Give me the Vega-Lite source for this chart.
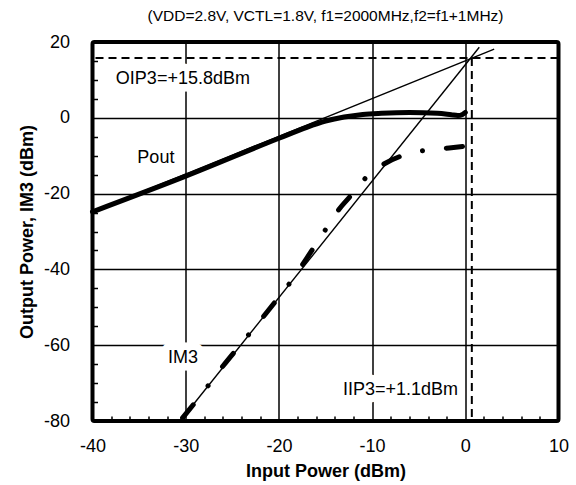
{
  "$schema": "https://vega.github.io/schema/vega-lite/v6.json",
  "width": 466,
  "height": 379,
  "padding": {"left": 17.5, "top": 8, "right": 5, "bottom": 5},
  "title": {"text": "(VDD=2.8V, VCTL=1.8V, f1=2000MHz,f2=f1+1MHz)", "fontSize": 15.5, "fontWeight": "normal", "font": "Liberation Sans", "color": "black", "anchor": "middle", "frame": "group", "offset": 9},
  "datasets": {
    "curves": [
      {"series": "Pout", "x": -40, "y": -24.8},
      {"series": "Pout", "x": -30, "y": -15.4},
      {"series": "Pout", "x": -20, "y": -5.4},
      {"series": "Pout", "x": -17, "y": -2.5},
      {"series": "Pout", "x": -15, "y": -0.9},
      {"series": "Pout", "x": -13, "y": 0.2},
      {"series": "Pout", "x": -11, "y": 0.9},
      {"series": "Pout", "x": -9, "y": 1.2},
      {"series": "Pout", "x": -6, "y": 1.4},
      {"series": "Pout", "x": -3, "y": 1.2},
      {"series": "Pout", "x": -1.5, "y": 0.8},
      {"series": "Pout", "x": -0.8, "y": 0.6},
      {"series": "Pout", "x": -0.3, "y": 0.9},
      {"series": "Pout", "x": 0, "y": 1.4},
      {"series": "IM3", "x": -30.6, "y": -80},
      {"series": "IM3", "x": -28, "y": -72},
      {"series": "IM3", "x": -26, "y": -65.5},
      {"series": "IM3", "x": -24, "y": -59.5},
      {"series": "IM3", "x": -22, "y": -53.5},
      {"series": "IM3", "x": -20, "y": -47.3},
      {"series": "IM3", "x": -18.5, "y": -42.5},
      {"series": "IM3", "x": -17, "y": -37},
      {"series": "IM3", "x": -15, "y": -29.5},
      {"series": "IM3", "x": -13.5, "y": -24},
      {"series": "IM3", "x": -12.3, "y": -20.6},
      {"series": "IM3", "x": -10.75, "y": -16},
      {"series": "IM3", "x": -9, "y": -12.6},
      {"series": "IM3", "x": -7, "y": -10.2},
      {"series": "IM3", "x": -5, "y": -8.9},
      {"series": "IM3", "x": -3, "y": -8.2},
      {"series": "IM3", "x": -1.5, "y": -7.9},
      {"series": "IM3", "x": -0.3, "y": -7.6}
    ],
    "fits": [
      {"series": "Pout fit", "x": -40, "y": -24.8},
      {"series": "Pout fit", "x": 3.1, "y": 18.1},
      {"series": "IM3 fit", "x": -30.6, "y": -80},
      {"series": "IM3 fit", "x": 1.5, "y": 18.6}
    ],
    "labels": [
      {"label": "OIP3=+15.8dBm", "x": -30.3, "y": 10.2},
      {"label": "Pout", "x": -33.2, "y": -10.6},
      {"label": "IM3", "x": -30.3, "y": -63.3},
      {"label": "IIP3=+1.1dBm", "x": -6.95, "y": -71.9}
    ],
    "intercept": [{"iip3": 0.7, "oip3": 15.8, "floor": -80}]
  },
  "layer": [
    {
      "data": {"name": "labels"},
      "mark": {"type": "text", "fill": "white", "stroke": "white", "strokeWidth": 15, "strokeJoin": "round", "fontSize": 18, "font": "Liberation Sans", "align": "center", "baseline": "middle"},
      "encoding": {
        "x": {"field": "x", "type": "quantitative", "scale": {"domain": [-40, 10], "nice": false, "zero": false}, "axis": null},
        "y": {"field": "y", "type": "quantitative", "scale": {"domain": [-80, 20], "nice": false, "zero": false}, "axis": null},
        "text": {"field": "label", "type": "nominal"}
      }
    },
    {
      "data": {"name": "fits"},
      "mark": {"type": "line", "color": "black", "strokeWidth": 1.4},
      "encoding": {
        "x": {"field": "x", "type": "quantitative", "scale": {"domain": [-40, 10], "nice": false, "zero": false},
          "axis": {"orient": "bottom", "values": [-40, -30, -20, -10, 0, 10], "labelExpr": "'' + datum.value", "grid": true, "ticks": false, "tickSize": 0, "domain": false, "labelPadding": 16, "labelFlush": false, "labelOverlap": false, "title": "Input Power (dBm)", "titlePadding": 7}},
        "y": {"field": "y", "type": "quantitative", "scale": {"domain": [-80, 20], "nice": false, "zero": false},
          "axis": {"orient": "left", "values": [-80, -60, -40, -20, 0, 20], "labelExpr": "'' + datum.value", "grid": true, "ticks": false, "tickSize": 0, "domain": false, "labelPadding": 23, "labelFlush": false, "labelOverlap": false, "title": "Output Power, IM3 (dBm)", "titlePadding": 7}},
        "detail": {"field": "series", "type": "nominal"}
      }
    },
    {
      "data": {"name": "curves"},
      "transform": [{"filter": "datum.series === 'Pout'"}],
      "mark": {"type": "line", "color": "black", "strokeWidth": 5, "strokeJoin": "round", "strokeCap": "round", "interpolate": "monotone"},
      "encoding": {
        "x": {"field": "x", "type": "quantitative", "scale": {"domain": [-40, 10], "nice": false, "zero": false}, "axis": null},
        "y": {"field": "y", "type": "quantitative", "scale": {"domain": [-80, 20], "nice": false, "zero": false}, "axis": null}
      }
    },
    {
      "data": {"name": "curves"},
      "transform": [{"filter": "datum.series === 'IM3'"}],
      "mark": {"type": "line", "color": "black", "strokeWidth": 5, "strokeJoin": "round", "strokeCap": "round", "strokeDash": [17, 24, 0.01, 24], "strokeDashOffset": -4, "interpolate": "monotone"},
      "encoding": {
        "x": {"field": "x", "type": "quantitative", "scale": {"domain": [-40, 10], "nice": false, "zero": false}, "axis": null},
        "y": {"field": "y", "type": "quantitative", "scale": {"domain": [-80, 20], "nice": false, "zero": false}, "axis": null}
      }
    },
    {
      "data": {"name": "intercept"},
      "mark": {"type": "rule", "color": "black", "strokeWidth": 2, "strokeDash": [8, 5]},
      "encoding": {
        "y": {"field": "oip3", "type": "quantitative", "scale": {"domain": [-80, 20], "nice": false, "zero": false},
          "axis": {"orient": "left", "values": [-75, -70, -65, -55, -50, -45, -35, -30, -25, -15, -10, -5, 5, 10, 15], "labels": false, "domain": false, "grid": false, "ticks": true, "tickSize": -5, "tickWidth": 1.5, "tickColor": "black", "title": null}}
      }
    },
    {
      "data": {"name": "intercept"},
      "mark": {"type": "rule", "color": "black", "strokeWidth": 2, "strokeDash": [8, 5]},
      "encoding": {
        "x": {"field": "iip3", "type": "quantitative", "scale": {"domain": [-40, 10], "nice": false, "zero": false},
          "axis": {"orient": "bottom", "values": [-38, -36, -34, -32, -28, -26, -24, -22, -18, -16, -14, -12, -8, -6, -4, -2, 2, 4, 6, 8], "labels": false, "domain": false, "grid": false, "ticks": true, "tickSize": -5, "tickWidth": 1.5, "tickColor": "black", "title": null}},
        "y": {"field": "oip3", "type": "quantitative", "scale": {"domain": [-80, 20], "nice": false, "zero": false}, "axis": null},
        "y2": {"field": "floor"}
      }
    },
    {
      "data": {"name": "labels"},
      "mark": {"type": "text", "color": "black", "fontSize": 18, "font": "Liberation Sans", "align": "center", "baseline": "middle"},
      "encoding": {
        "x": {"field": "x", "type": "quantitative", "scale": {"domain": [-40, 10], "nice": false, "zero": false}, "axis": null},
        "y": {"field": "y", "type": "quantitative", "scale": {"domain": [-80, 20], "nice": false, "zero": false}, "axis": null},
        "text": {"field": "label", "type": "nominal"}
      }
    }
  ],
  "resolve": {"axis": {"x": "independent", "y": "independent"}},
  "config": {
    "view": {"stroke": "black", "strokeWidth": 4, "cornerRadius": 2},
    "font": "Liberation Sans",
    "axis": {"labelFont": "Liberation Sans", "labelFontSize": 18, "labelColor": "black", "titleFont": "Liberation Sans", "titleFontSize": 18, "titleFontWeight": "bold", "titleColor": "black", "gridColor": "black", "gridOpacity": 1, "gridWidth": 1.5, "tickColor": "black"}
  }
}
